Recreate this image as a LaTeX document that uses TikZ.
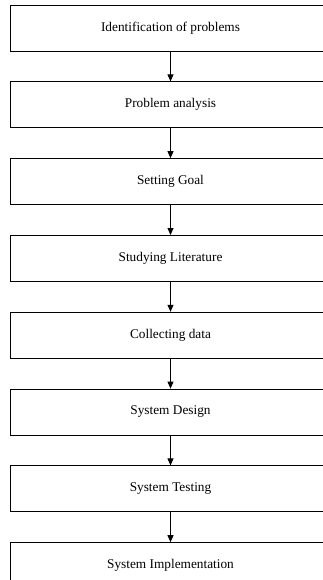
\documentclass[tikz,border=0pt]{standalone}
\usepackage{fontspec}
\setmainfont{Liberation Serif}
\usetikzlibrary{positioning,arrows.meta}

\begin{document}
\begin{tikzpicture}[
    x=1pt, y=1pt,
    font=\fontsize{13.3}{15}\selectfont,
    stage/.style={
        draw,
        line width=0.8pt,
        minimum width=320pt,
        minimum height=46pt,
        inner sep=0pt,
        align=center
    },
    arrow/.style={-{Triangle[length=7pt,width=6pt]}, line width=0.8pt}
]
\useasboundingbox (0,0) rectangle (323,-580);

% ============================================================
% STAGES
% ============================================================
\node[stage] (ident) at (170.5,-28) {Identification of problems};
\node[stage, below=30pt of ident] (analysis) {Problem analysis};
\node[stage, below=30pt of analysis] (goal) {Setting Goal};
\node[stage, below=30pt of goal] (lit) {Studying Literature};
\node[stage, below=30pt of lit] (collect) {Collecting data};
\node[stage, below=30pt of collect] (design) {System Design};
\node[stage, below=30pt of design] (testing) {System Testing};
\node[stage, below=30pt of testing] (impl) {System Implementation};

% ============================================================
% CONNECTORS
% ============================================================
\draw[arrow] (ident) -- (analysis);
\draw[arrow] (analysis) -- (goal);
\draw[arrow] (goal) -- (lit);
\draw[arrow] (lit) -- (collect);
\draw[arrow] (collect) -- (design);
\draw[arrow] (design) -- (testing);
\draw[arrow] (testing) -- (impl);

\end{tikzpicture}
\end{document}
